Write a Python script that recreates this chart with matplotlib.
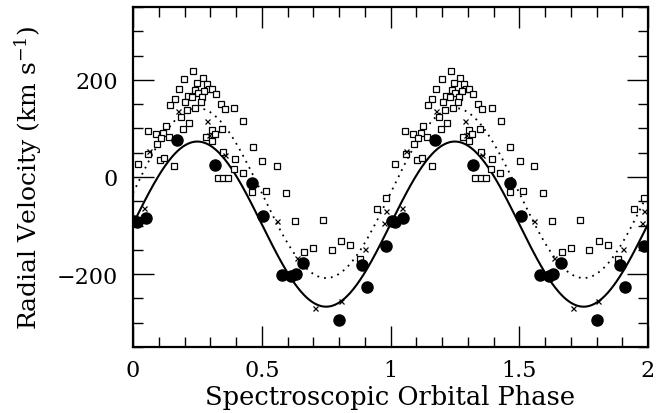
import numpy as np
import matplotlib
matplotlib.use("Agg")
import matplotlib.pyplot as plt
from matplotlib.ticker import MultipleLocator

# Measured radial velocities, folded on orbital phase (0-1); plotted twice.
circle_phase = [0.005, 0.017, 0.05, 0.171, 0.32, 0.463, 0.505, 0.58, 0.614, 0.632,
                0.661, 0.80, 0.89, 0.91, 0.983]
circle_rv = [-90, -92, -84, 76, 25, -12, -81, -202, -203, -199,
             -177, -295, -181, -227, -142]

cross_phase = [0.044, 0.062, 0.176, 0.289, 0.294, 0.357, 0.559, 0.636, 0.707,
               0.806, 0.901, 0.975, 0.983]
cross_rv = [-63, 54, 135, 116, 87, 45, -91, -166, -269,
            -256, -148, -95, -71]

square_phase = [0.234, 0.199, 0.271, 0.247, 0.286, 0.177, 0.24, 0.295, 0.306, 0.276,
                0.251, 0.322, 0.215, 0.23, 0.267, 0.163, 0.203, 0.263, 0.145, 0.34,
                0.356, 0.393, 0.241, 0.211, 0.188, 0.428, 0.219, 0.128, 0.195, 0.346,
                0.057, 0.306, 0.318, 0.088, 0.118, 0.108, 0.14, 0.283, 0.306, 0.092,
                0.466, 0.06, 0.351, 0.395, 0.501, 0.104, 0.122, 0.019, 0.16, 0.559,
                0.392, 0.427, 0.329, 0.35, 0.37, 0.463, 0.515, 0.594, 0.629, 0.737,
                0.665, 0.70, 0.772, 0.808, 0.843, 0.882, 0.946, 0.983]
square_rv = [219, 202, 204, 194, 191, 181, 179, 181, 181, 177,
             173, 171, 166, 164, 164, 160, 155, 155, 149, 151,
             141, 142, 143, 137, 124, 116, 111, 105, 98, 98,
             95, 96, 89, 88, 91, 80, 83, 83, 74, 68,
             61, 47, 52, 37, 33, 34, 39, 27, 23, 23,
             16, 8, -3, -3, -2, -30, -29, -32, -91, -89,
             -155, -147, -150, -132, -140, -169, -65, -43]

# Sinusoidal orbit fits: systemic velocity and semi-amplitude (km/s)
fit_solid = (-97, 170)
fit_dotted = (-33, 175)

x_ticks = [0, 0.5, 1, 1.5, 2]
x_tick_labels = ["0", "0.5", "1", "1.5", "2"]
y_ticks = [-200, 0, 200]
y_tick_labels = ["\u2212200", "0", "200"]


def two_cycles(phase, values):
    p = np.asarray(phase, float)
    v = np.asarray(values, float)
    return np.concatenate([p, p + 1]), np.concatenate([v, v])


plt.rcParams["font.family"] = ["DejaVu Serif"]
plt.rcParams["mathtext.fontset"] = "dejavuserif"

fig = plt.figure(figsize=(6.57, 4.14), dpi=100)
ax = fig.add_axes([133 / 657, 1 - 348 / 414, 515 / 657, 340 / 414])

grid = np.linspace(0, 2, 800)
for (gamma, k), ls in ((fit_solid, "-"), (fit_dotted, (0, (1, 2.8)))):
    ax.plot(grid, gamma + k * np.sin(2 * np.pi * grid), color="black",
            lw=1.5 if ls == "-" else 1.3, ls=ls, zorder=2)

sx, sy = two_cycles(square_phase, square_rv)
ax.plot(sx, sy, ls="none", marker="s", ms=3.8, mfc="white", mec="black",
        mew=0.9, zorder=3)
cx, cy = two_cycles(cross_phase, cross_rv)
ax.plot(cx, cy, ls="none", marker="x", ms=3.6, color="black", mew=0.9, zorder=4)
fx, fy = two_cycles(circle_phase, circle_rv)
ax.plot(fx, fy, ls="none", marker="o", ms=8, color="black", zorder=5)

ax.set_xlim(0, 2)
ax.set_ylim(-350, 350)
ax.set_xticks(x_ticks)
ax.set_xticklabels(x_tick_labels)
ax.set_yticks(y_ticks)
ax.set_yticklabels(y_tick_labels)
ax.xaxis.set_minor_locator(MultipleLocator(0.1))
ax.yaxis.set_minor_locator(MultipleLocator(50))
ax.tick_params(which="both", direction="in", top=True, right=True,
               labelsize=16, width=1.0)
ax.tick_params(axis="x", which="major", pad=9)
ax.tick_params(axis="y", which="major", pad=11)
ax.tick_params(which="major", length=15)
ax.tick_params(which="minor", length=7.5)
for s in ax.spines.values():
    s.set_linewidth(1.6)

ax.set_xlabel("Spectroscopic Orbital Phase", fontsize=18.5, labelpad=2)
ax.set_ylabel(r"Radial Velocity (km s$^{-1}$)", fontsize=18, labelpad=9)

fig.savefig("out.png", dpi=100)
